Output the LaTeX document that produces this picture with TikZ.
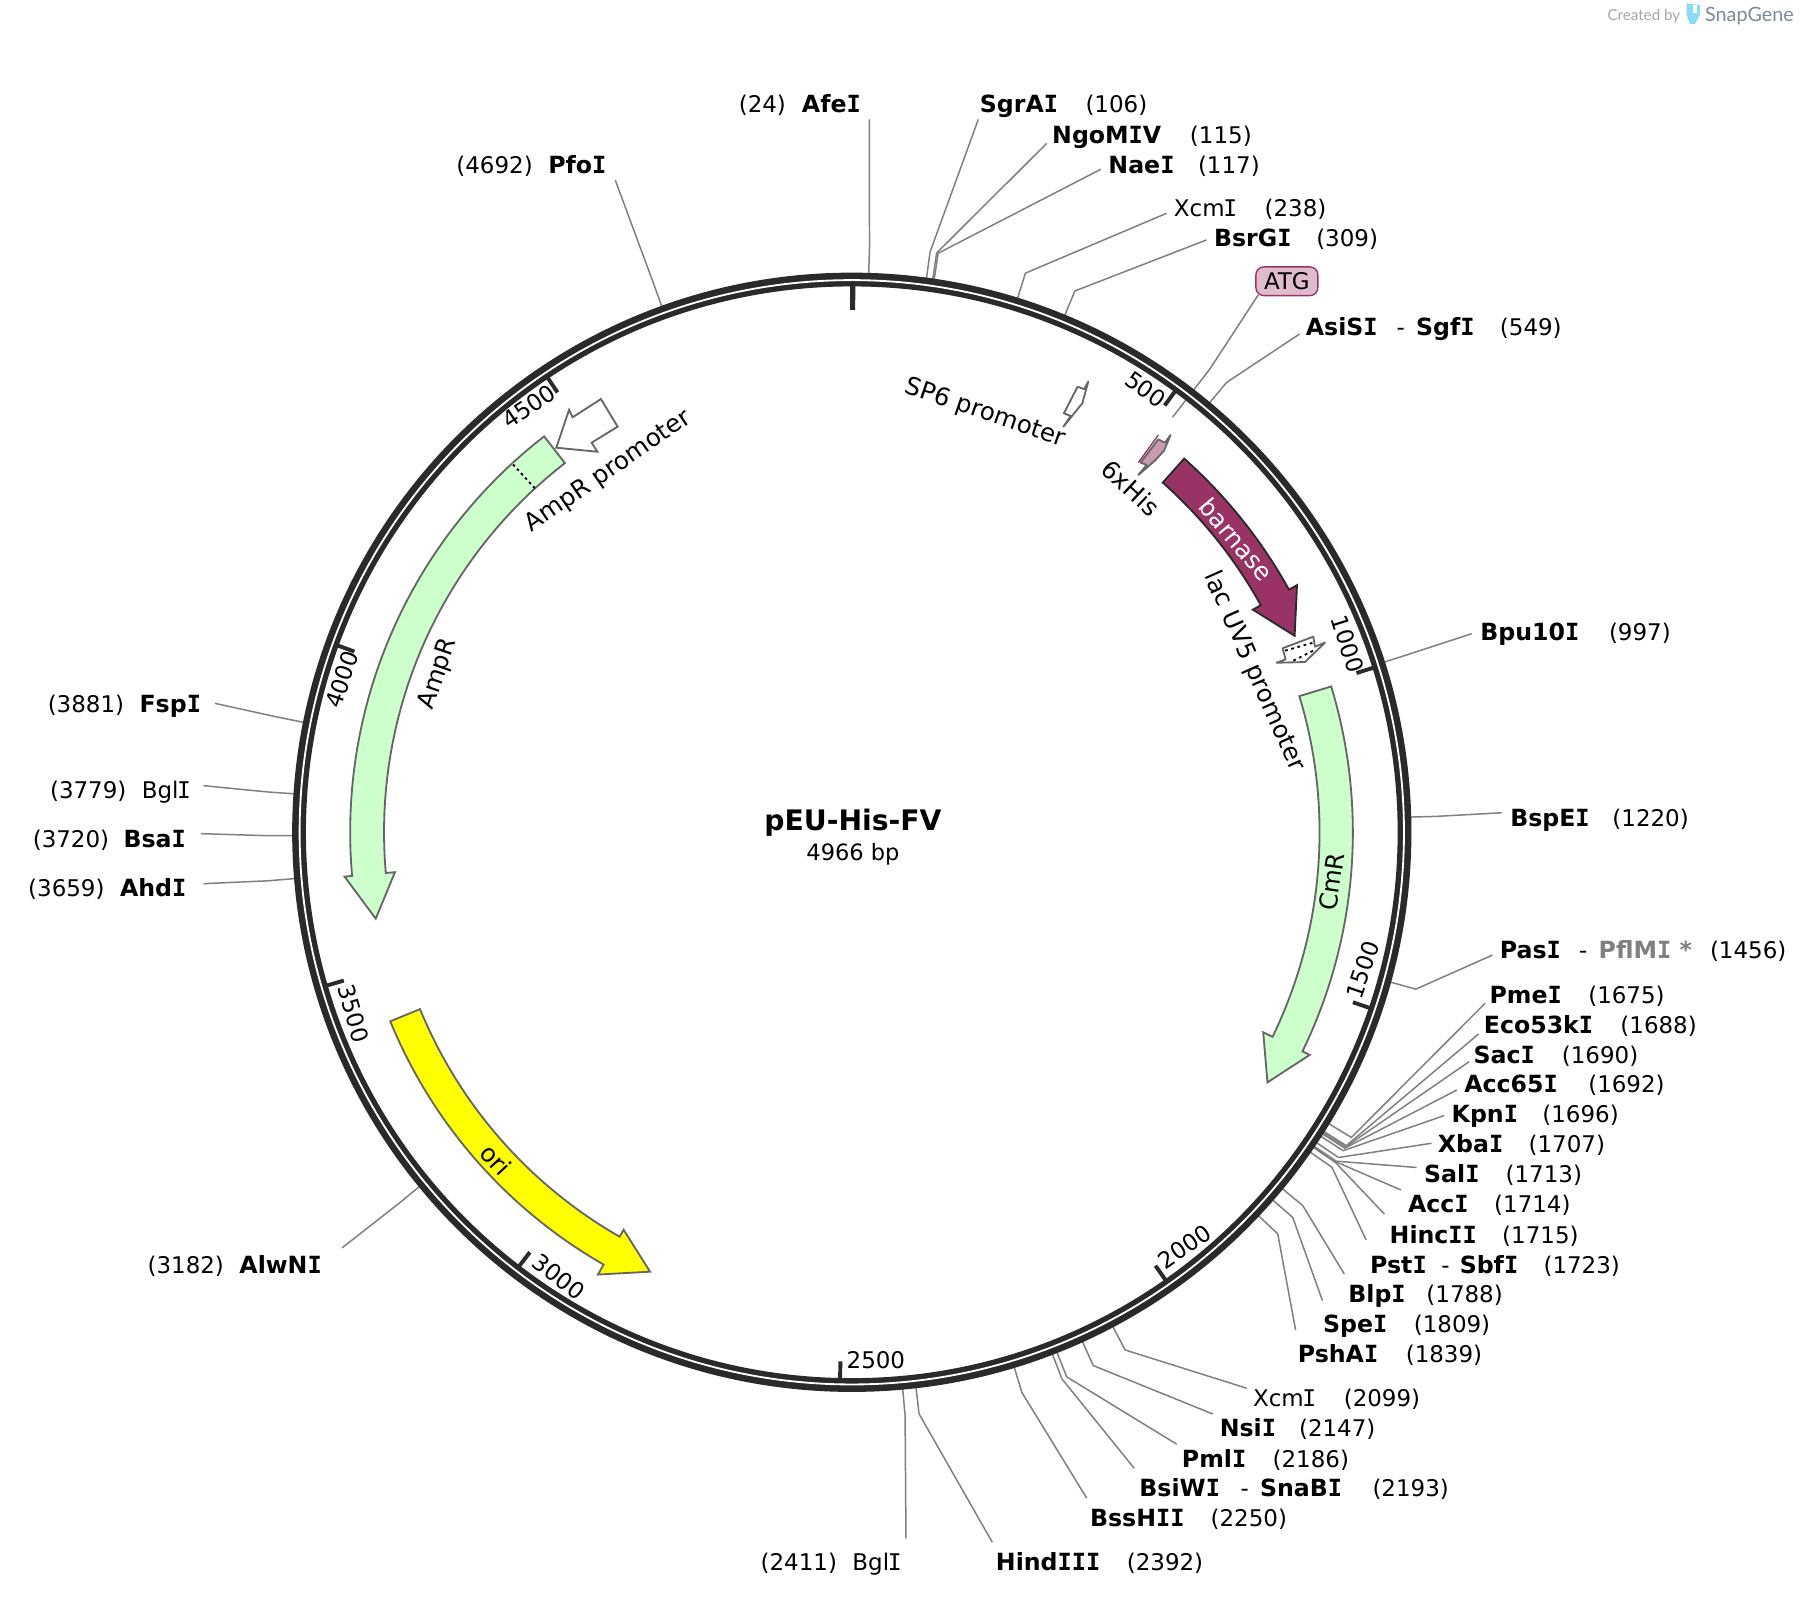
\documentclass[tikz,border=0pt]{standalone}
\usepackage{fontspec}
\setmainfont{DejaVu Sans}
\newfontfamily\monoI{DejaVu Sans Mono}
\newfontfamily\logofont{Lato}
\newcommand{\Ii}{{\monoI I}}
\newcommand{\Ir}{\hspace{-0.06em}{\monoI I}\hspace{-0.08em}}
\definecolor{ringc}{HTML}{2A2A2A}
\definecolor{leaderc}{HTML}{808080}
\definecolor{featc}{HTML}{666666}
\definecolor{mag}{HTML}{993366}
\definecolor{pinkf}{HTML}{CC99B3}
\definecolor{atgf}{HTML}{E0BBCE}
\definecolor{greenf}{HTML}{CCFFCC}
\definecolor{yel}{RGB}{255,255,0}
\tikzset{
  leader/.style={draw=leaderc,line width=0.65pt,line join=round},
  bn/.style={anchor=base west,inner sep=0pt,font=\fontsize{10.3}{12}\selectfont\bfseries},
  rg/.style={anchor=base west,inner sep=0pt,font=\fontsize{10}{12}\selectfont},
  tick/.style={draw=ringc,line width=1.7pt},
  ticklab/.style={inner sep=0pt,font=\fontsize{10}{12}\selectfont},
  featlab/.style={inner sep=0pt,font=\fontsize{10.7}{12}\selectfont},
  feat/.style={draw=featc,line width=0.8pt,line join=miter,miter limit=10},
  glyph/.style={draw=featc,line width=0.8pt,line join=round},
}
\newcommand{\bnode}[4]{\node[bn] (#1) at ({#2-0.8},{#3+8}) {#4};}
\newcommand{\rnode}[4]{\node[rg] (#1) at ({#2-0.8},{#3+8}) {#4};}
\newcommand{\featarrow}[9]{%
  \draw[#1] plot[domain=#2:#3,samples=40] ({\x-90}:#6) -- ({#3-90}:#8) -- ({#4-90}:#9) -- ({#3-90}:#7) -- ({#3-90}:#5)
    -- plot[domain=#3:#2,samples=40] ({\x-90}:#5) -- cycle;}
\begin{document}
\begin{tikzpicture}[x=0.5pt,y=-0.5pt]
\useasboundingbox (0,0) rectangle (1568,1392);
\fill[white] (0,0) rectangle (1568,1392);
\coordinate (cen) at (742,725);

% restriction site leaders (ring point, elbow, label end)
\foreach \bp/\lx/\ly in {
  24/757.3/104, 106/852.2/104, 115/911.8/124.9, 117/958.8/147.5, 238/1016.2/185.8, 309/1051/209,
  549/1132/291, 997/1282/552, 1220/1308/708, 1456/1300/832,
  1675/1293.7/873.9, 1688/1288/900.7, 1690/1279.8/924.8, 1692/1269/949.5, 1696/1258/971.8,
  1707/1247/995.9, 1713/1234/1017, 1714/1220.4/1036.6, 1715/1206/1057.6, 1723/1190/1080,
  1788/1171/1109.8, 1809/1152/1133, 1839/1128.6/1158.5,
  2099/1086/1209.3, 2147/1056.4/1231.7, 2186/1025/1258, 2193/988/1279, 2250/946.6/1305,
  2392/864.4/1343.5, 2411/789.2/1340,
  3182/298/1087, 3659/177.1/769.8, 3720/175/726.2, 3779/177.1/684.4, 3881/187.3/612.7, 4692/536/157}{
  \pgfmathsetmacro{\ang}{\bp/4966*360-90}
  \coordinate (s\bp) at ([shift={(\ang:487)}]cen);
  \coordinate (k\bp) at ([shift={(\ang:510)}]cen);
  \coordinate (l\bp) at (\lx,\ly);
  \draw[leader] (s\bp) -- (k\bp) -- (l\bp);
}
% ATG leader
\node[draw=mag,fill=atgf,line width=0.6pt,rounded corners=3.5pt,minimum width=27pt,minimum height=12.5pt,inner sep=0pt,font=\fontsize{10}{12}\selectfont] (atg) at (1121,245) {ATG};
\coordinate (atgs) at ([shift={(-52.3:457)}]cen);
\coordinate (atgk) at ([shift={(-52.3:510)}]cen);
\coordinate (atge) at (1096,257);
\draw[leader] (atgs) -- (atgk) -- (atge);

% ring
\draw[ringc,line width=6pt] (cen) circle[radius=481.5];
\draw[white,line width=0.8pt] (cen) circle[radius=481];

% ticks
\draw[draw=ringc,line width=2.2pt] ([shift={(-89.9:480)}]cen) -- ([shift={(-89.9:455)}]cen);
\foreach \t in {500,1000,1500,2000,2500,3000,3500,4000,4500}{
  \pgfmathsetmacro{\ang}{\t/4966*360-90}
  \draw[tick] ([shift={(\ang:478)}]cen) -- ([shift={(\ang:461)}]cen);
}
\node[ticklab,rotate=-36] (t500) at (998,339) {500};
\node[ticklab,rotate=-72.5] (t1000) at (1174,561) {1000};
\node[ticklab,rotate=71] (t1500) at (1187,845) {1500};
\node[ticklab,rotate=35] (t2000) at (1032,1086) {2000};
\node[ticklab] (t2500) at (763,1185) {2500};
\node[ticklab,rotate=-37.5] (t3000) at (487,1112) {3000};
\node[ticklab,rotate=-73.7] (t3500) at (308,883) {3500};
\node[ticklab,rotate=70.5] (t4000) at (298,592) {4000};
\node[ticklab,rotate=34] (t4500) at (461,354) {4500};

% features
\begin{scope}[shift={(741.5,725)}]
\featarrow{feat,fill=greenf}{322.2}{265}{259.7}{407}{436.5}{399}{443}{421}
\featarrow{feat,fill=greenf}{73.1}{115.9}{121}{408}{437}{399}{444}{423}
\featarrow{feat,fill=yel}{247.7}{209.8}{204.6}{406}{434}{399}{444}{421}
\featarrow{draw=ringc,line width=0.8pt,fill=mag,miter limit=10}{41.7}{61}{66.1}{408}{436}{400}{444}{422.5}
\draw[white,line width=0.7pt] (317.4-90:407) -- (317.4-90:436);
\draw[black,line width=0.8pt,dash pattern=on 1.2pt off 1.4pt] (317.4-90:407) -- (317.4-90:436);
\end{scope}

% AmpR promoter glyph
\draw[glyph,fill=white,miter limit=10,line join=miter] (484.6,390) -- (495.7,357) -- (498.8,363.5) -- (523.5,347.6) -- (538,371.7) -- (515.4,385.6) -- (520.3,393.5) -- cycle;
% SP6 promoter glyph
\draw[glyph,fill=white] (926.3,371.7) -- (942.8,351.3) -- (948,332.5) -- (944.3,339) -- (938.7,336.8) -- (926.8,360) -- (932.7,362.4) -- cycle;
% 6xHis glyph
\draw[glyph,fill=pinkf] (991.6,413.8) -- (1006,401.3) -- (1014,392.6) -- (1019.7,378.9) -- (1014.8,385.6) -- (1009,382.7) -- (993.6,403) -- (998.9,405) -- cycle;
\draw[mag,line width=0.6pt] (991.6,403) -- (1009,379);
% lac UV5 promoter glyph
\draw[glyph,fill=white] (1112,577.3) -- (1136.8,576.7) -- (1154.2,559.8) -- (1145.5,563.3) -- (1144,554.6) -- (1117.3,564.7) -- (1119.9,574.3) -- cycle;
\draw[black,line width=0.8pt,dash pattern=on 1.2pt off 1.6pt] (1119.4,566.8) -- (1144,559.8);
\draw[black,line width=0.8pt,dash pattern=on 1.2pt off 1.6pt] (1126.6,575.5) -- (1144,566.8);

% feature labels
\node[featlab,rotate=34.6] (fAmpRp) at (530,411) {AmpR promoter};
\node[featlab,rotate=71] (fAmpR) at (382,587) {AmpR};
\node[featlab,rotate=-19] (fSP6) at (858,360) {SP6 promoter};
\node[featlab,rotate=-43] (fHis) at (985,425) {6xHis};
\node[featlab,rotate=-50,text=white] (fbar) at (1077,470) {barnase};
\node[featlab,rotate=-66] (flac) at (1092.5,585) {lac UV5 promoter};
\node[featlab,rotate=82] (fCmR) at (1160,768) {CmR};
\node[featlab,rotate=-47] (fori) at (432,1010) {ori};

% centre
\node[inner sep=0pt,font=\fontsize{12.3}{14}\selectfont\bfseries] (title) at (743,717) {pEU-His-FV};
\node[inner sep=0pt,font=\fontsize{9.8}{12}\selectfont] (size) at (743,744.5) {4966 bp};

% site labels
\rnode{p24}{644}{90}{(24)} \bnode{n24}{699}{90}{Afe\Ii}
\bnode{n106}{854}{90}{SgrA\Ii} \rnode{p106}{946}{90}{(106)}
\bnode{n115}{917}{117}{NgoM\Ii V} \rnode{p115}{1037}{117}{(115)}
\bnode{n117}{966}{143}{Nae\Ii} \rnode{p117}{1044}{143}{(117)}
\rnode{n238}{1023}{181}{Xcm\Ir} \rnode{p238}{1102}{181}{(238)}
\bnode{n309}{1058}{207}{BsrG\Ii} \rnode{p309}{1147}{207}{(309)}
\bnode{n549}{1138}{284}{AsiS\Ii} \rnode{d549}{1217}{284}{-} \bnode{m549}{1234}{284}{Sgf\Ii} \rnode{p549}{1307}{284}{(549)}
\bnode{n997}{1290}{550}{Bpu10\Ii} \rnode{p997}{1402}{550}{(997)}
\bnode{n1220}{1316}{712}{BspE\Ii} \rnode{p1220}{1405}{712}{(1220)}
\bnode{n1456}{1307}{827}{Pas\Ii} \rnode{d1456}{1376}{827}{-} \node[bn,text=leaderc] (m1456) at (1392.2,835) {PflM\Ii\ *}; \rnode{p1456}{1490}{827}{(1456)}
\bnode{n1675}{1298}{866}{Pme\Ii} \rnode{p1675}{1384}{866}{(1675)}
\bnode{n1688}{1293}{892}{Eco53k\Ii} \rnode{p1688}{1412}{892}{(1688)}
\bnode{n1690}{1284}{918}{Sac\Ii} \rnode{p1690}{1361}{918}{(1690)}
\bnode{n1692}{1276}{944}{Acc65\Ii} \rnode{p1692}{1384}{944}{(1692)}
\bnode{n1696}{1265}{970}{Kpn\Ii} \rnode{p1696}{1344}{970}{(1696)}
\bnode{n1707}{1253}{996}{Xba\Ii} \rnode{p1707}{1332}{996}{(1707)}
\bnode{n1713}{1241}{1022}{Sal\Ii} \rnode{p1713}{1312}{1022}{(1713)}
\bnode{n1714}{1227}{1048}{Acc\Ii} \rnode{p1714}{1302}{1048}{(1714)}
\bnode{n1715}{1211}{1075}{Hinc\Ii\Ii} \rnode{p1715}{1309}{1075}{(1715)}
\bnode{n1723}{1194}{1101}{Pst\Ii} \rnode{d1723}{1256}{1101}{-} \bnode{m1723}{1272}{1101}{Sbf\Ii} \rnode{p1723}{1345}{1101}{(1723)}
\bnode{n1788}{1175}{1127}{Blp\Ii} \rnode{p1788}{1243}{1127}{(1788)}
\bnode{n1809}{1153}{1153}{Spe\Ii} \rnode{p1809}{1232}{1153}{(1809)}
\bnode{n1839}{1131}{1179}{PshA\Ii} \rnode{p1839}{1225}{1179}{(1839)}
\rnode{n2099}{1092}{1217}{Xcm\Ir} \rnode{p2099}{1171}{1217}{(2099)}
\bnode{n2147}{1063}{1243}{Nsi\Ii} \rnode{p2147}{1132}{1243}{(2147)}
\bnode{n2186}{1030}{1270}{Pml\Ii} \rnode{p2186}{1109}{1270}{(2186)}
\bnode{n2193}{993}{1296}{BsiW\Ii} \rnode{d2193}{1081}{1296}{-} \bnode{m2193}{1098}{1296}{SnaB\Ii} \rnode{p2193}{1196}{1296}{(2193)}
\bnode{n2250}{950}{1322}{BssH\Ii\Ii} \rnode{p2250}{1055}{1322}{(2250)}
\bnode{n2392}{868}{1360}{Hind\Ii\Ii\Ii} \rnode{p2392}{982}{1360}{(2392)}
\rnode{p2411}{663}{1360}{(2411)} \rnode{n2411}{743}{1360}{Bgl\Ir}
\rnode{p3182}{129}{1101}{(3182)} \bnode{n3182}{209}{1101}{AlwN\Ii}
\rnode{p3659}{25}{773}{(3659)} \bnode{n3659}{105}{773}{Ahd\Ii}
\rnode{p3720}{29}{730}{(3720)} \bnode{n3720}{108}{730}{Bsa\Ii}
\rnode{p3779}{44}{688}{(3779)} \rnode{n3779}{124}{688}{Bgl\Ir}
\rnode{p3881}{42}{613}{(3881)} \bnode{n3881}{122}{613}{Fsp\Ii}
\rnode{p4692}{398}{143}{(4692)} \bnode{n4692}{478}{143}{Pfo\Ii}

% logo
\node[anchor=base west,inner sep=0pt,text=black!35,font=\logofont\fontsize{6.6}{8}\selectfont] (logoa) at (1400,18) {Created by};
\fill[cyan!45!white] (1469.2,2.9) -- (1480.8,4.4) -- (1480.8,13) -- (1476.5,20.9) -- (1472.1,20.9) -- (1469.2,13) -- cycle;
\fill[white] (1474.4,4.4) rectangle (1477.9,11.6);
\node[anchor=base west,inner sep=0pt,text={rgb,255:red,125;green,137;blue,150},font=\logofont\fontsize{8.6}{10}\selectfont] (logob) at (1485,19) {SnapGene};
\end{tikzpicture}
\end{document}
